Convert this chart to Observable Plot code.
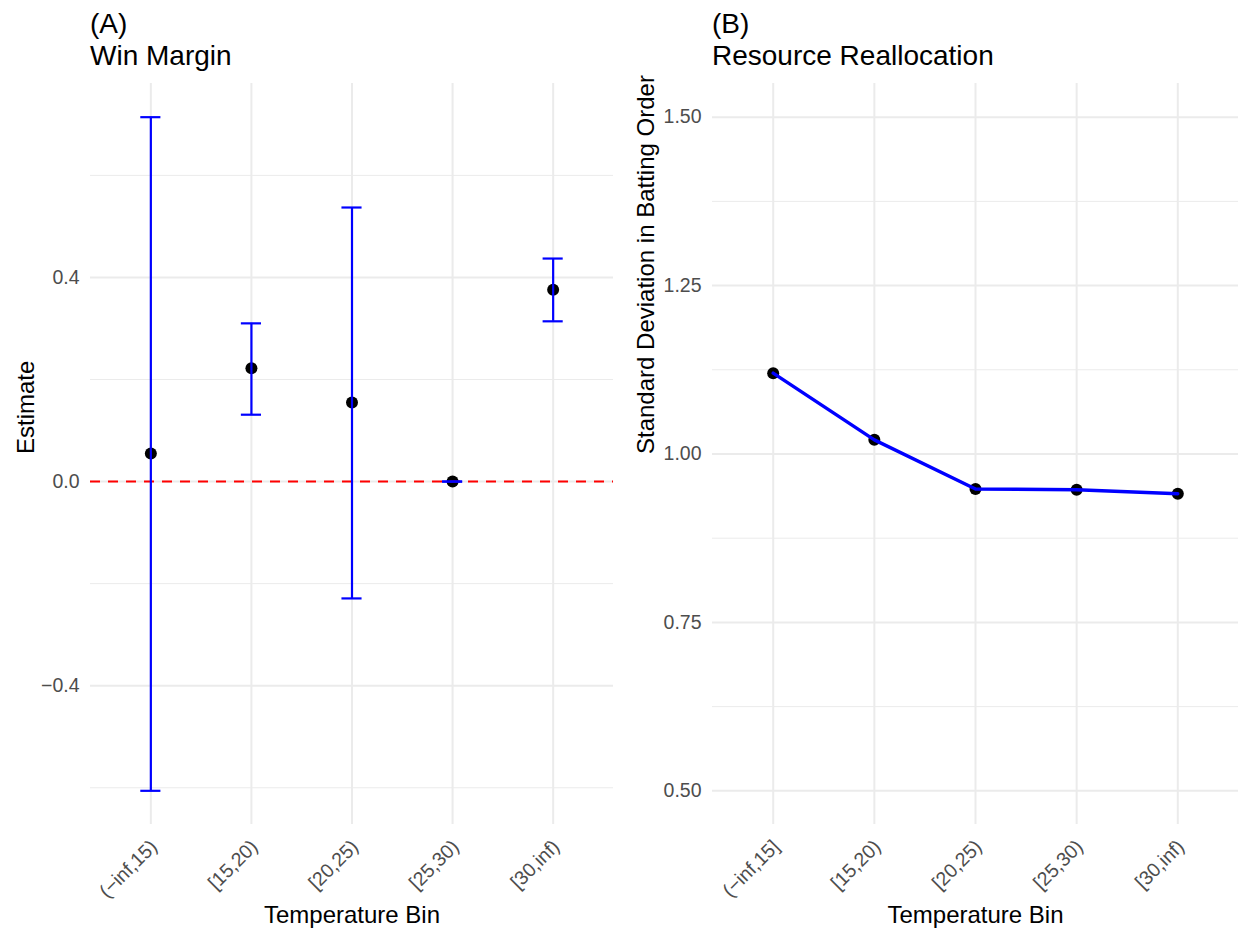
<!DOCTYPE html>
<html>
<head>
<meta charset="utf-8">
<script src="https://cdn.jsdelivr.net/npm/d3@7"></script>
<script src="https://cdn.jsdelivr.net/npm/@observablehq/plot@0.6"></script>
<style>
  body { margin: 0; background: #fff; font-family: "Liberation Sans", Arial, sans-serif; }
  #wrap { position: relative; width: 1238px; height: 931px; overflow: hidden; }
  .panel { position: absolute; top: 0; }
  .title { position: absolute; font-size: 28px; line-height: 28px; color: #000; white-space: nowrap; }
</style>
</head>
<body>
<div id="wrap"></div>
<script>
// Panel A: win-margin estimates with confidence intervals by temperature bin
const binsA = ["(\u2212inf,15)", "[15,20)", "[20,25)", "[25,30)", "[30,inf)"];
const estimate = [0.055, 0.222, 0.155, 0.0, 0.376];
const ciLow = [-0.606, 0.131, -0.229, 0.0, 0.314];
const ciHigh = [0.714, 0.310, 0.537, 0.0, 0.437];

// Panel B: standard deviation in batting order by temperature bin
const binsB = ["(\u2212inf,15]", "[15,20)", "[20,25)", "[25,30)", "[30,inf)"];
const sdBatting = [1.120, 1.021, 0.948, 0.947, 0.941];

// Axis ticks
const majorA = [-0.4, 0, 0.4];
const minorA = [-0.6, -0.2, 0.2, 0.6];
const majorB = [0.5, 0.75, 1.0, 1.25, 1.5];
const minorB = [0.625, 0.875, 1.125, 1.375];

const FONT = "'Liberation Sans', Arial, sans-serif";
const W = 619, H = 931;
const TOP = 83, BOTTOM = 107;

const rowsA = binsA.map((bin, i) => ({i, bin, est: estimate[i], lo: ciLow[i], hi: ciHigh[i]}));
const rowsB = binsB.map((bin, i) => ({i, bin, sd: sdBatting[i]}));

// continuous expansion (5% each side)
function expand([a, b]) { const p = (b - a) * 0.05; return [a - p, b + p]; }
// discrete expansion: 0.6 of a step on each side
const xDomain = n => [-0.6, n - 1 + 0.6];

const wrap = document.getElementById("wrap");

function addTitle(left, tag, name) {
  const t1 = document.createElement("div");
  t1.className = "title"; t1.style.left = left + "px"; t1.style.top = "10px"; t1.textContent = tag;
  const t2 = document.createElement("div");
  t2.className = "title"; t2.style.left = left + "px"; t2.style.top = "42px"; t2.textContent = name;
  wrap.append(t1, t2);
}

function commonMarks(rows, labels, major, minor, ytitle, labelDx) {
  return [
    Plot.ruleY(minor, {stroke: "#ebebeb", strokeWidth: 1}),
    Plot.ruleY(major, {stroke: "#ebebeb", strokeWidth: 2}),
    Plot.ruleX(rows, {x: "i", stroke: "#ebebeb", strokeWidth: 2}),
    Plot.axisY(major, {tickSize: 0, tickPadding: 11, fontSize: 19.5, label: null,
      tickFormat: d => d3.format(major.some(v => Math.round(v * 10) !== v * 10) ? ".2f" : ".1f")(d).replace("-", "\u2212")}),
    Plot.axisX(rows.map(d => d.i), {tickSize: 0, tickPadding: 19, dx: 3, tickRotate: -45, fontSize: 19.5, label: null,
      tickFormat: i => labels[i]}),
    Plot.text(["Temperature Bin"], {frameAnchor: "bottom", dy: 91, lineAnchor: "middle", fontSize: 24, fill: "#000"}),
    Plot.text([ytitle], {frameAnchor: "left", rotate: -90, dx: labelDx, lineAnchor: "top", fontSize: 24, fill: "#000"})
  ];
}

// Panel A
const yA = expand([d3.min(ciLow), d3.max(ciHigh)]);
const plotA = Plot.plot({
  width: W, height: H,
  marginLeft: 90, marginRight: W - 613, marginTop: TOP, marginBottom: BOTTOM,
  style: {fontFamily: FONT, color: "#4d4d4d", background: "transparent", overflow: "visible"},
  x: {type: "linear", domain: xDomain(binsA.length)},
  y: {domain: yA},
  marks: [
    ...commonMarks(rowsA, binsA, majorA, minorA, "Estimate", -74),
    Plot.dot(rowsA, {x: "i", y: "est", r: 6, fill: "#000", stroke: "none"}),
    Plot.ruleY([0], {stroke: "#ff0000", strokeWidth: 2, strokeDasharray: "10,8"}),
    Plot.ruleX(rowsA, {x: "i", y1: "lo", y2: "hi", stroke: "#0000ff", strokeWidth: 2.2}),
    Plot.ruleY(rowsA, {x1: d => d.i - 0.1, x2: d => d.i + 0.1, y: "hi", stroke: "#0000ff", strokeWidth: 2.2}),
    Plot.ruleY(rowsA, {x1: d => d.i - 0.1, x2: d => d.i + 0.1, y: "lo", stroke: "#0000ff", strokeWidth: 2.2})
  ]
});
plotA.classList.add("panel");
plotA.style.left = "0px";
wrap.append(plotA);
addTitle(90, "(A)", "Win Margin");

// Panel B
const plotB = Plot.plot({
  width: W, height: H,
  marginLeft: 712 - W, marginRight: 0, marginTop: TOP, marginBottom: BOTTOM,
  style: {fontFamily: FONT, color: "#4d4d4d", background: "transparent", overflow: "visible"},
  x: {type: "linear", domain: xDomain(binsB.length)},
  y: {domain: expand([d3.min(majorB), d3.max(majorB)])},
  marks: [
    ...commonMarks(rowsB, binsB, majorB, minorB, "Standard Deviation in Batting Order", -76),
    Plot.dot(rowsB, {x: "i", y: "sd", r: 6, fill: "#000", stroke: "none"}),
    Plot.line(rowsB, {x: "i", y: "sd", stroke: "#0000ff", strokeWidth: 3.4})
  ]
});
plotB.classList.add("panel");
plotB.style.left = W + "px";
wrap.append(plotB);
addTitle(712, "(B)", "Resource Reallocation");
</script>
</body>
</html>
